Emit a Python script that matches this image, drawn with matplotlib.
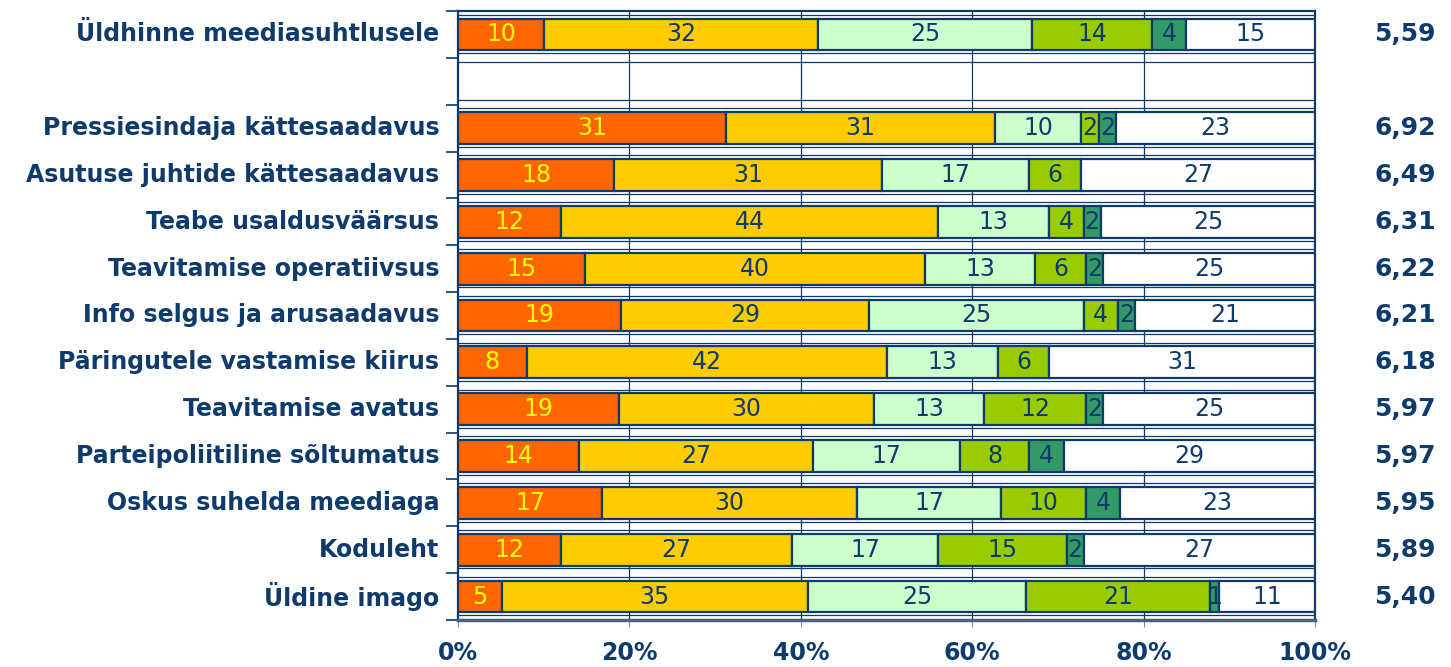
import numpy as np
import matplotlib.pyplot as plt

# rows top to bottom, None = empty spacer row
categories = [
    "Üldhinne meediasuhtlusele",
    None,
    "Pressiesindaja kättesaadavus",
    "Asutuse juhtide kättesaadavus",
    "Teabe usaldusväärsus",
    "Teavitamise operatiivsus",
    "Info selgus ja arusaadavus",
    "Päringutele vastamise kiirus",
    "Teavitamise avatus",
    "Parteipoliitiline sõltumatus",
    "Oskus suhelda meediaga",
    "Koduleht",
    "Üldine imago",
]
s1 = [10, None, 31, 18, 12, 15, 19, 8, 19, 14, 17, 12, 5]
s2 = [32, None, 31, 31, 44, 40, 29, 42, 30, 27, 30, 27, 35]
s3 = [25, None, 10, 17, 13, 13, 25, 13, 13, 17, 17, 17, 25]
s4 = [14, None, 2, 6, 4, 6, 4, 6, 12, 8, 10, 15, 21]
s5 = [4, None, 2, 0, 2, 2, 2, 0, 2, 4, 4, 2, 1]
s6 = [15, None, 23, 27, 25, 25, 21, 31, 25, 29, 23, 27, 11]
averages = ["5,59", None, "6,92", "6,49", "6,31", "6,22", "6,21", "6,18",
            "5,97", "5,97", "5,95", "5,89", "5,40"]

series = [s1, s2, s3, s4, s5, s6]
colors = ["#FF6600", "#FFCC00", "#CCFFCC", "#99CC00", "#339966", "#FFFFFF"]
navy = "#0E3B6B"

fig = plt.figure(figsize=(14.51, 6.67), dpi=100)
ax = fig.add_axes([0.3157, 0.0705, 0.5906, 0.913])

n = len(categories)
ax.set_ylim(n - 0.5, -0.5)
ax.set_xlim(0, 100)

# double horizontal lines between rows
for b in np.arange(-0.5, n, 1.0):
    ax.axhline(b - 0.1, color=navy, lw=0.9, zorder=1)
    ax.axhline(b + 0.08, color=navy, lw=0.9, zorder=1)
for x in [20, 40, 60, 80]:
    ax.axvline(x, color=navy, lw=0.9, zorder=1)

for i in range(n):
    if categories[i] is None:
        continue
    vals = np.array([s[i] for s in series], dtype=float)
    pct = vals / vals.sum() * 100
    left = 0.0
    for j, (v, p) in enumerate(zip(vals, pct)):
        if v == 0:
            continue
        ax.barh(i, p, left=left, height=0.68, color=colors[j],
                edgecolor=navy, linewidth=1.6, zorder=3)
        tc = "#FFFF00" if j == 0 else navy
        ax.text(left + p / 2, i, f"{int(v)}", ha="center", va="center",
                fontsize=17, color=tc, zorder=4)
        left += p
    ax.text(1.105, i, averages[i], transform=ax.get_yaxis_transform(),
            ha="center", va="center", fontsize=18, fontweight="bold", color=navy)

ax.set_yticks(np.arange(-0.5, n, 1.0))
ax.set_yticklabels([])
ax.tick_params(axis="y", length=9, color=navy, width=1.2)
for i, c in enumerate(categories):
    if c:
        ax.text(-0.022, i, c, transform=ax.get_yaxis_transform(), ha="right",
                va="center", fontsize=17, fontweight="bold", color=navy)

ax.set_xticks([0, 20, 40, 60, 80, 100])
ax.set_xticklabels(["0%", "20%", "40%", "60%", "80%", "100%"],
                   fontsize=17, fontweight="bold", color=navy)
ax.tick_params(axis="x", length=5, color="#7A8CA8", pad=10)

for s in ["left", "right", "top"]:
    ax.spines[s].set_color(navy)
    ax.spines[s].set_linewidth(1.6)
ax.spines["bottom"].set_color("#4A607E")
ax.spines["bottom"].set_linewidth(2.5)

fig.savefig("out.png", dpi=100)
